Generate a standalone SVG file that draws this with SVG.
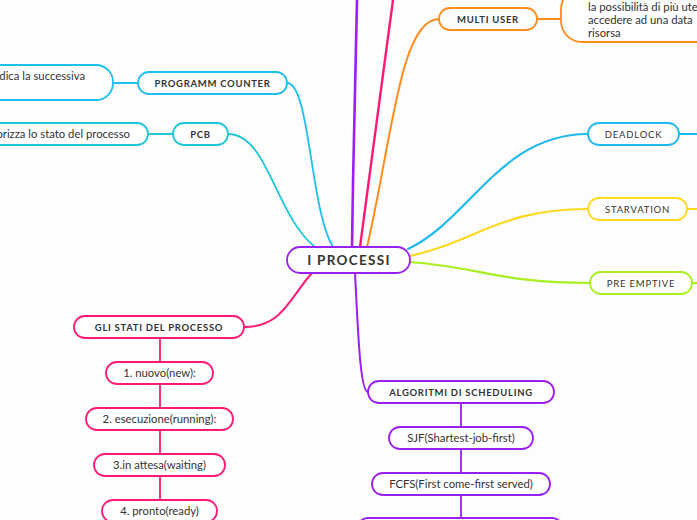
<svg xmlns="http://www.w3.org/2000/svg" width="697" height="520" viewBox="0 0 697 520">
<style>
  .bg{fill:#fdfdfd}
  .n rect{fill:#ffffff;stroke-width:1.8}
  .t{font-family:Lato,"Liberation Sans",sans-serif;fill:#333333;text-anchor:middle}
  .b{font-weight:bold;font-size:9.5px;letter-spacing:0.7px}
  .u{font-size:9.5px;letter-spacing:0.8px}
  .r{font-size:11.3px}
  .l{font-family:Lato,"Liberation Sans",sans-serif;fill:#333333;font-size:11.3px}
  #conn path{fill:none;stroke-linecap:round}
</style>
<rect class="bg" x="0" y="0" width="697" height="520"/>
<g id="conn">
  <path d="M352,247 C353,160 356,60 357,0" stroke="#9a1ff0" stroke-width="2.6"/>
  <path d="M360,247 C368,190 382,80 393,0" stroke="#ff1a75" stroke-width="2.4"/>
  <path d="M367,247 C392,140 400,19 439,19" stroke="#ff8c1a" stroke-width="2"/>
  <path d="M408,249 C470,220 500,134 588,134" stroke="#20b8f0" stroke-width="2.2"/>
  <path d="M410,256 C480,240 500,209 588,209" stroke="#ffd820" stroke-width="2.2"/>
  <path d="M410,262 C485,268 500,283 590,283" stroke="#a8f020" stroke-width="2.2"/>
  <path d="M355,273 C358,330 360,392 368,392" stroke="#9a1ff0" stroke-width="2"/>
  <path d="M312,273 C288,300 282,327 244,327" stroke="#ff1a75" stroke-width="2"/>
  <path d="M228,134 C268,134 275,215 315,247" stroke="#1cc8d8" stroke-width="1.8"/>
  <path d="M287,83 C310,83 310,210 333,247" stroke="#1ec0f0" stroke-width="1.8"/>
  <path d="M113,83 L138,83" stroke="#1ec0f0" stroke-width="1.8"/>
  <path d="M148,134 L173,134" stroke="#1cc8d8" stroke-width="1.8"/>
  <path d="M537,19 L561,19" stroke="#ff8c1a" stroke-width="1.8"/>
  <path d="M679,134 L697,134" stroke="#20b8f0" stroke-width="1.8"/>
  <path d="M687,209 L697,209" stroke="#ffd820" stroke-width="1.8"/>
  <path d="M692,283 L697,283" stroke="#a8f020" stroke-width="1.8"/>
  <path d="M160,338 L160,518" stroke="#ff1a75" stroke-width="1.8"/>
  <path d="M461,403 L461,520" stroke="#9a1ff0" stroke-width="1.8"/>
</g>
<g id="root" class="n">
  <rect x="287" y="247" width="123" height="26" rx="13" stroke="#9a1ff0"/>
  <text class="t" x="349" y="265" font-size="13.5" font-weight="bold" letter-spacing="1.3">I PROCESSI</text>
</g>
<g id="programm-counter" class="n">
  <rect x="138" y="72" width="149" height="22" rx="11" stroke="#1ec0f0"/>
  <text class="t b" x="212.5" y="86.5">PROGRAMM COUNTER</text>
</g>
<g id="pc-note" class="n">
  <rect x="-60" y="65" width="173" height="35" rx="17" stroke="#1ec0f0"/>
  <text class="l" x="85" y="80" text-anchor="end">dica la successiva</text>
</g>
<g id="pcb" class="n">
  <rect x="173" y="123" width="55" height="22" rx="11" stroke="#1cc8d8"/>
  <text class="t b" x="200.5" y="137.5">PCB</text>
</g>
<g id="pcb-note" class="n">
  <rect x="-60" y="123" width="208" height="22" rx="11" stroke="#1cc8d8"/>
  <text class="l" x="130" y="138" text-anchor="end">orizza lo stato del processo</text>
</g>
<g id="multi-user" class="n">
  <rect x="439" y="8" width="98" height="22" rx="11" stroke="#ff8c1a"/>
  <text class="t b" x="488" y="22.5">MULTI USER</text>
</g>
<g id="multi-note" class="n">
  <rect x="561" y="-12" width="160" height="54" rx="21" stroke="#ff8c1a"/>
  <text class="l" x="588" y="11">la possibilità di più ute</text>
  <text class="l" x="588" y="24">accedere ad una data</text>
  <text class="l" x="588" y="37">risorsa</text>
</g>
<g id="deadlock" class="n">
  <rect x="588" y="123" width="91" height="22" rx="11" stroke="#20b8f0"/>
  <text class="t u" x="633.5" y="137.5">DEADLOCK</text>
</g>
<g id="starvation" class="n">
  <rect x="588" y="198" width="99" height="22" rx="11" stroke="#ffd820"/>
  <text class="t u" x="637.5" y="212.5">STARVATION</text>
</g>
<g id="pre-emptive" class="n">
  <rect x="590" y="272" width="102" height="22" rx="11" stroke="#a8f020"/>
  <text class="t u" x="641" y="286.5">PRE EMPTIVE</text>
</g>
<g id="stati" class="n">
  <rect x="74" y="316" width="170" height="22" rx="11" stroke="#ff1a75"/>
  <text class="t b" x="159" y="330.5">GLI STATI DEL PROCESSO</text>
</g>
<g id="nuovo" class="n">
  <rect x="106" y="362" width="107" height="22" rx="11" stroke="#ff1a75"/>
  <text class="t r" x="159.5" y="377">1. nuovo(new):</text>
</g>
<g id="esecuzione" class="n">
  <rect x="86" y="408" width="147" height="22" rx="11" stroke="#ff1a75"/>
  <text class="t r" x="159.5" y="423">2. esecuzione(running):</text>
</g>
<g id="attesa" class="n">
  <rect x="94" y="454" width="131" height="22" rx="11" stroke="#ff1a75"/>
  <text class="t r" x="159.5" y="469">3.in attesa(waiting)</text>
</g>
<g id="pronto" class="n">
  <rect x="102" y="500" width="115" height="22" rx="11" stroke="#ff1a75"/>
  <text class="t r" x="159.5" y="515">4. pronto(ready)</text>
</g>
<g id="algoritmi" class="n">
  <rect x="368" y="381" width="186" height="22" rx="11" stroke="#9a1ff0"/>
  <text class="t b" x="461" y="395.5">ALGORITMI DI SCHEDULING</text>
</g>
<g id="sjf" class="n">
  <rect x="389" y="427" width="144" height="22" rx="11" stroke="#9a1ff0"/>
  <text class="t r" x="461" y="442">SJF(Shartest-job-first)</text>
</g>
<g id="fcfs" class="n">
  <rect x="372" y="473" width="178" height="22" rx="11" stroke="#9a1ff0"/>
  <text class="t r" x="461" y="488">FCFS(First come-first served)</text>
</g>
<g id="next-algo" class="n">
  <rect x="357" y="518" width="206" height="22" rx="11" stroke="#9a1ff0"/>
</g>
</svg>
